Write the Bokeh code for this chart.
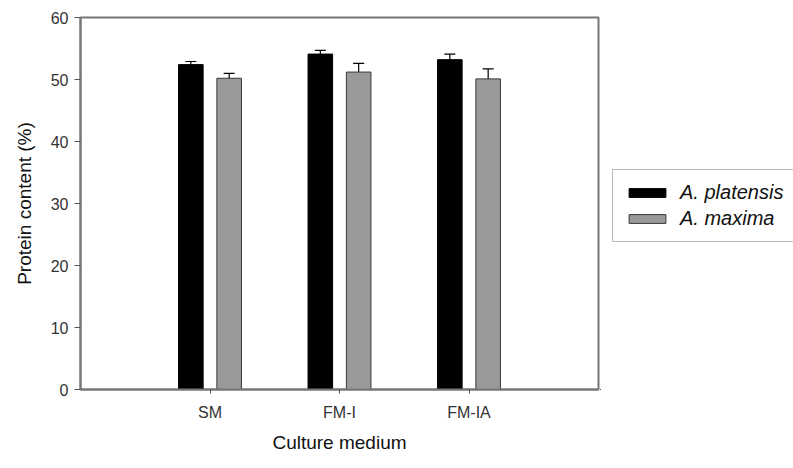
from bokeh.plotting import figure
from bokeh.layouts import row
from bokeh.models import (ColumnDataSource, Whisker, TeeHead, Legend, LegendItem,
                          Range1d, FixedTicker)
from bokeh.embed import file_html
from bokeh.resources import INLINE

# ---- data ----
categories = ["SM", "FM-I", "FM-IA"]
cat_pos = [1, 2, 3]
platensis = [52.4, 54.1, 53.2]
platensis_err = [0.5, 0.6, 0.9]
maxima = [50.2, 51.2, 50.1]
maxima_err = [0.8, 1.4, 1.6]
series_names = ["A. platensis", "A. maxima"]
y_ticks = [0, 10, 20, 30, 40, 50, 60]

offset = 0.148
bar_w = 0.19
black_style = dict(fill_color="black", line_color="black", line_width=1)
gray_style = dict(fill_color="#999999", line_color="#3a3a3a", line_width=1)

p = figure(width=600, height=460, output_backend="svg", toolbar_location=None,
           x_range=Range1d(0, 4), y_range=Range1d(0, 60),
           min_border_left=80, min_border_right=2, min_border_top=17,
           min_border_bottom=71)
p.xgrid.visible = False
p.ygrid.visible = False
p.background_fill_color = "white"
p.border_fill_color = "white"
p.outline_line_color = "#777777"
p.outline_line_width = 2

src1 = ColumnDataSource(dict(x=[c - offset for c in cat_pos], top=platensis,
                             up=[v + e for v, e in zip(platensis, platensis_err)]))
src2 = ColumnDataSource(dict(x=[c + offset for c in cat_pos], top=maxima,
                             up=[v + e for v, e in zip(maxima, maxima_err)]))

for src in (src1, src2):
    p.add_layout(Whisker(source=src, base="x", lower="top", upper="up",
                         line_color="black", line_width=1.2,
                         upper_head=TeeHead(size=11, line_color="black", line_width=1.2),
                         lower_head=None))

p.vbar(x="x", top="top", width=bar_w, source=src1, **black_style)
p.vbar(x="x", top="top", width=bar_w, source=src2, **gray_style)

# axes
p.xaxis.ticker = FixedTicker(ticks=cat_pos)
p.xaxis.major_label_overrides = {c: n for c, n in zip(cat_pos, categories)}
p.yaxis.ticker = FixedTicker(ticks=y_ticks)

for ax in (p.xaxis[0], p.yaxis[0]):
    ax.axis_line_color = "#777777"
    ax.axis_line_width = 2
    ax.major_tick_line_color = "#555555"
    ax.major_tick_line_width = 1
    ax.minor_tick_line_color = None
    ax.major_tick_in = 0
    ax.major_label_text_font = "Liberation Sans"
    ax.major_label_text_font_size = "16px"
    ax.major_label_text_color = "#333333"
    ax.axis_label_text_font = "Liberation Sans"
    ax.axis_label_text_font_style = "normal"
    ax.axis_label_text_color = "#111111"

p.xaxis.major_tick_out = 4
p.xaxis.major_label_standoff = 10
p.xaxis.axis_label = "Culture medium"
p.xaxis.axis_label_text_font_size = "19px"
p.xaxis.axis_label_standoff = 8

p.yaxis.major_tick_out = 6
p.yaxis.major_label_standoff = 6
p.yaxis.axis_label = "Protein content (%)"
p.yaxis.axis_label_text_font_size = "19px"
p.yaxis.axis_label_standoff = 13

# ---- legend panel (second figure to the right, legend clipped at the edge) ----
# same data renderers, placed far outside this panel's visible ranges, only for legend swatches
q = figure(width=193, height=460, output_backend="svg", toolbar_location=None,
           x_range=Range1d(1000, 1001), y_range=Range1d(1000, 1001),
           min_border_left=0, min_border_right=0, min_border_top=0,
           min_border_bottom=0)
q.axis.visible = False
q.xgrid.visible = False
q.ygrid.visible = False
q.outline_line_color = None
q.background_fill_color = "white"
q.border_fill_color = "white"
e1 = q.vbar(x="x", top="top", width=bar_w, source=src1, **black_style)
e2 = q.vbar(x="x", top="top", width=bar_w, source=src2, **gray_style)

legend = Legend(items=[LegendItem(label=series_names[0], renderers=[e1]),
                       LegendItem(label=series_names[1], renderers=[e2])],
                location=(12, 147), orientation="vertical",
                label_text_font="Liberation Sans", label_text_font_style="italic",
                label_text_font_size="20px", label_text_color="#111111",
                glyph_width=46, glyph_height=11, label_height=20,
                label_width=130, label_standoff=10, spacing=3, padding=11,
                margin=0, border_line_color="#777777", border_line_width=1.5,
                background_fill_alpha=1.0)
q.add_layout(legend, "center")

layout = row(p, q)
layout.spacing = 0

open("out.html", "w").write(file_html(layout, INLINE))
